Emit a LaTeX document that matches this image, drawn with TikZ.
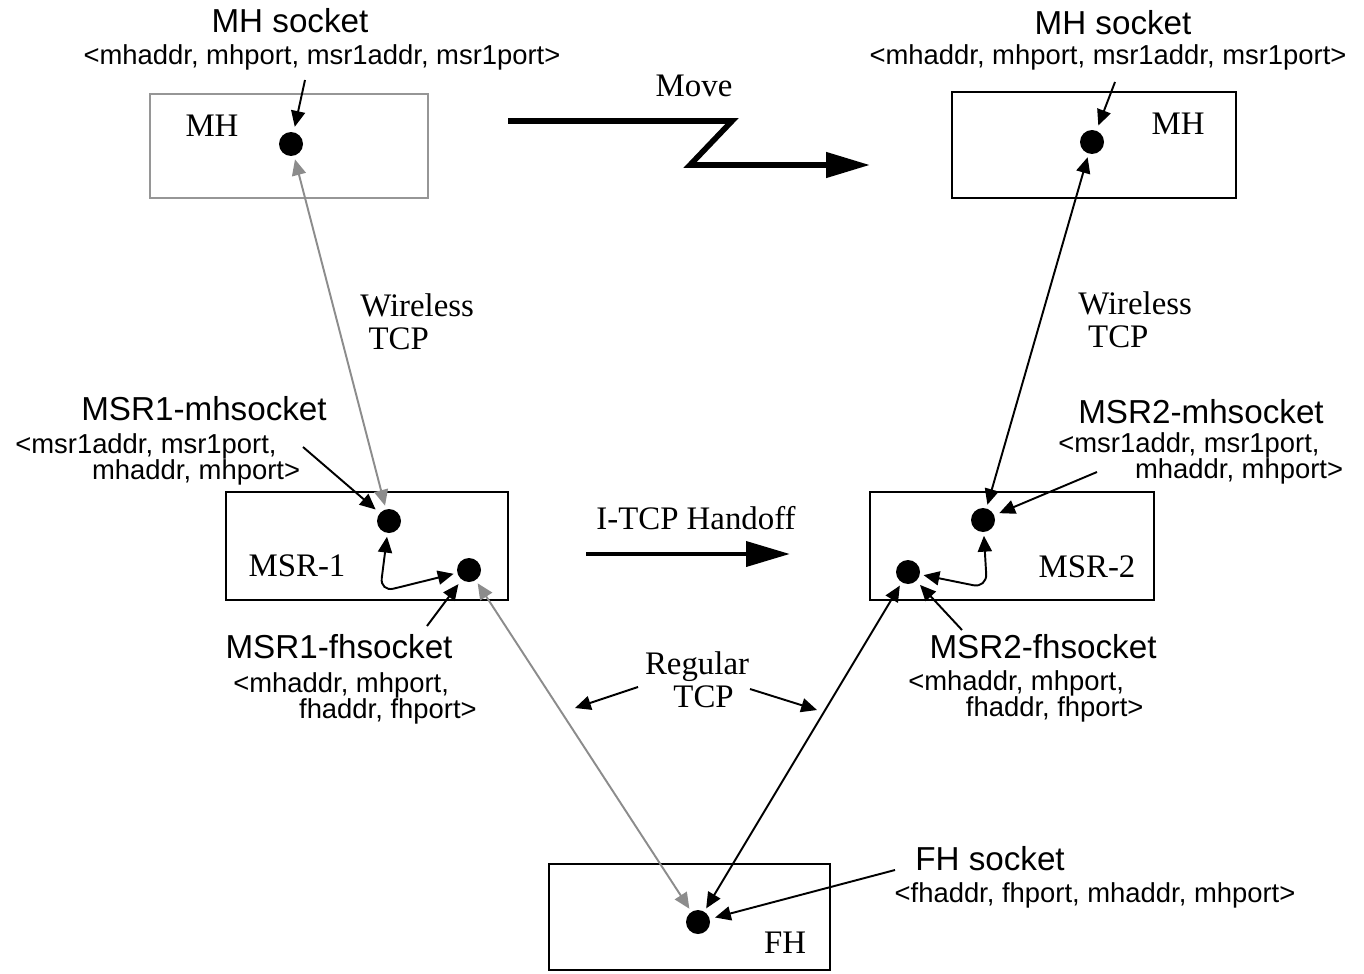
\documentclass[tikz,border=0pt]{standalone}
\usepackage{fontspec}
\setmainfont{Liberation Serif}
\setsansfont{Liberation Sans}
\usetikzlibrary{arrows.meta}
\definecolor{linkgray}{RGB}{140,140,140}
\definecolor{boxgray}{RGB}{150,150,150}

\begin{document}
\begin{tikzpicture}[x=0.02cm,y=-0.02cm,
  box/.style={draw, line width=1.1pt, inner sep=0pt},
  sock/.style={circle, fill=black, inner sep=0pt, minimum size=0.48cm},
  host/.style={font=\fontsize{18.7}{18.7}\selectfont, inner sep=0pt},
  title/.style={font=\sffamily\fontsize{18.9}{20}\selectfont, inner sep=0pt},
  tuple/.style={font=\sffamily\fontsize{15.6}{14.9}\selectfont, inner sep=0pt, align=left},
  headtip/.style={-{Triangle[length=9pt,width=8pt]}},
  link/.style={line width=1.1pt, {Triangle[length=9pt,width=8pt]}-{Triangle[length=9pt,width=8pt]}, shorten <=2pt, shorten >=2pt},
  graylink/.style={link, draw=linkgray, {Triangle[length=9pt,width=8pt,fill=linkgray]}-{Triangle[length=9pt,width=8pt,fill=linkgray]}},
  pointer/.style={line width=1.1pt, headtip, shorten >=3pt},
  bigarrow/.style={line width=3pt, -{Triangle[length=25pt,width=14pt]}, miter limit=10}
]
\useasboundingbox (0,0) rectangle (1364,973);

% hosts and routers
\node[box, draw=boxgray, minimum width=5.56cm, minimum height=2.08cm] (mhLbox) at (289,146) {};
\node[box, minimum width=5.68cm, minimum height=2.12cm] (mhRbox) at (1094,145) {};
\node[box, minimum width=5.64cm, minimum height=2.16cm] (msr1box) at (367,546) {};
\node[box, minimum width=5.68cm, minimum height=2.16cm] (msr2box) at (1012,546) {};
\node[box, minimum width=5.62cm, minimum height=2.12cm] (fhbox) at (689.5,917) {};

\node[host] (mhLlbl) at (212,126) {MH};
\node[host] (mhRlbl) at (1178,124) {MH};
\node[host] (msr1lbl) at (297,566) {MSR-1};
\node[host] (msr2lbl) at (1087,567) {MSR-2};
\node[host] (fhlbl) at (785,943) {FH};

% sockets
\node[sock] (dL) at (291,144) {};
\node[sock] (dR) at (1092,142) {};
\node[sock] (d1a) at (389,521) {};
\node[sock] (d1b) at (469,570) {};
\node[sock] (d2a) at (983,520) {};
\node[sock] (d2b) at (908,572) {};
\node[sock] (dF) at (698,922) {};

% socket names and address tuples
\node[title] (tMHL) at (290,21) {MH socket};
\node[tuple] (uMHL) at (322,57) {<mhaddr, mhport, msr1addr, msr1port>};
\node[title] (tMHR) at (1113,23) {MH socket};
\node[tuple] (uMHR) at (1108,57) {<mhaddr, mhport, msr1addr, msr1port>};
\node[title] (tM1m) at (204,409) {MSR1-mhsocket};
\node[tuple, anchor=west] (uM1m) at (15,459) {<msr1addr, msr1port,\\\hspace*{2.8em}mhaddr, mhport>};
\node[title] (tM2m) at (1201,412) {MSR2-mhsocket};
\node[tuple, anchor=west] (uM2m) at (1058,458) {<msr1addr, msr1port,\\\hspace*{2.8em}mhaddr, mhport>};
\node[title] (tM1f) at (339,647) {MSR1-fhsocket};
\node[tuple, anchor=west] (uM1f) at (233,698) {<mhaddr, mhport,\\\hspace*{2.4em}fhaddr, fhport>};
\node[title] (tM2f) at (1043,647) {MSR2-fhsocket};
\node[tuple, anchor=west] (uM2f) at (908,696) {<mhaddr, mhport,\\\hspace*{2.1em}fhaddr, fhport>};
\node[title] (tFH) at (990,859) {FH socket};
\node[tuple] (uFH) at (1095,895) {<fhaddr, fhport, mhaddr, mhport>};

% connection labels
\node[host] (move) at (694,86) {Move};
\node[host] (handoff) at (696,518) {I-TCP Handoff};
\node[host, align=left, anchor=west] (wL) at (360,322) {Wireless\\\hspace*{0.25em}TCP};
\node[host, align=left, anchor=west] (wR) at (1078,320) {Wireless\\\hspace*{0.3em}TCP};
\node[host, align=center] (reg) at (697,680) {Regular\\\hspace*{0.4em}TCP};

% pointer origins
\coordinate (pMHL) at (305,80);
\coordinate (pMHR) at (1115,82);
\coordinate (pM1m) at (303,447);
\coordinate (pM1f) at (427,626);
\coordinate (pM2m) at (1097,472);
\coordinate (pM2f) at (962,630);
\coordinate (pFH) at (895,870);
\coordinate (rL0) at (638,687);
\coordinate (rL1) at (575,708);
\coordinate (rR0) at (750,689);
\coordinate (rR1) at (817,710);

\draw[pointer] (pMHL) -- (dL);
\draw[pointer] (pMHR) -- (dR);
\draw[pointer] (pM1m) -- (d1a);
\draw[pointer] (pM1f) -- (d1b);
\draw[pointer] (pM2m) -- (d2a);
\draw[pointer] (pM2f) -- (d2b);
\draw[pointer] (pFH) -- (dF);
\draw[line width=1.1pt, headtip] (rL0) -- (rL1);
\draw[line width=1.1pt, headtip] (rR0) -- (rR1);

% connections
\draw[graylink] (dL) -- (d1a);
\draw[graylink] (d1b) -- (dF);
\draw[link] (dR) -- (d2a);
\draw[link] (d2b) -- (dF);
\draw[link, rounded corners=8] (d1a) -- (380,592) -- (d1b);
\draw[link, rounded corners=8] (d2a) -- (987,588) -- (d2b);

% movement and handoff
\coordinate (mv0) at (508,121);
\coordinate (mv1) at (870,165);
\draw[bigarrow, line width=3.2pt] (mv0) -- (732,121) -- (690,165) -- (mv1);
\coordinate (ho0) at (586,554);
\coordinate (ho1) at (790,554);
\draw[bigarrow, line width=2.8pt] (ho0) -- (ho1);
\end{tikzpicture}
\end{document}
